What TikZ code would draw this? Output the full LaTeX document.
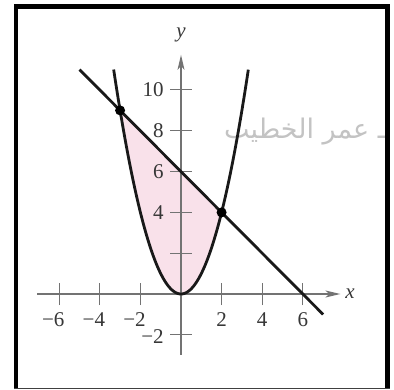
\documentclass[tikz,border=0pt]{standalone}
\usepackage{fontspec}
\setmainfont{Liberation Serif}
\newfontfamily\arabicfont[Script=Arabic]{DejaVu Sans}
\TeXXeTstate=1
\usetikzlibrary{arrows.meta}
\definecolor{pinkfill}{RGB}{249,225,234}
\definecolor{axisgray}{RGB}{115,115,115}
\definecolor{numgray}{RGB}{55,55,55}
\definecolor{wmgray}{RGB}{195,195,195}
\tikzset{
  axisline/.style={draw=axisgray, line width=1.1pt},
  tickline/.style={draw=axisgray, line width=1pt},
  curveline/.style={draw=black!90, line width=2.8pt},
  numlbl/.style={text=numgray, inner sep=0pt, font=\fontsize{21}{24}\selectfont},
  varlbl/.style={text=numgray, inner sep=0pt, font=\fontsize{21}{24}\selectfont\itshape},
  ptdot/.style={circle, fill=black, inner sep=0pt, minimum size=10pt},
  framebar/.style={draw=black, line width=4.8pt}
}
\begin{document}
\begin{tikzpicture}[x=1pt,y=1pt]
\useasboundingbox (0,0) rectangle (394,389);
\fill[white] (0,0) rectangle (394,389);
% watermark
\node[text=wmgray, inner sep=0pt, anchor=east, font=\arabicfont\fontsize{27}{30}\selectfont] (wm) at (386,257) {\beginR ـ عمر الخطيب\endR};
\begin{scope}[shift={(181pt,95pt)}, x=20.3pt, y=20.4pt]
  % shaded region
  \fill[pinkfill] plot[domain=-3:2, samples=60] (\x,{\x*\x}) -- (-3,9) -- cycle;
  % axes
  \coordinate (xs) at (-7.09,0);
  \coordinate (xe) at (7.85,0);
  \coordinate (ys) at (0,-2.99);
  \coordinate (ye) at (0,11.72);
  \draw[axisline, -{Stealth[length=15pt,width=7pt,inset=4pt]}] (xs) -- (xe);
  \draw[axisline, -{Stealth[length=15pt,width=7pt,inset=4pt]}] (ys) -- (ye);
  % ticks
  \foreach \t in {-6,-4,-2,2,4,6} \draw[tickline] (\t,-0.54) -- (\t,0.54);
  \foreach \t in {-2,2,4,6,8,10} \draw[tickline] (-0.54,\t) -- (0.54,\t);
  % x tick labels
  \foreach \t/\s in {-6/6,-4/4,-2/2} \node[numlbl] (xl\s) at (\t,-1.27) {\llap{−}\s};
  \foreach \t in {2,4,6} \node[numlbl] (xlp\t) at (\t,-1.27) {\t};
  % y tick labels
  \foreach \t in {4,6,8,10} \node[numlbl, anchor=east] (yl\t) at (-0.84,\t) {\t};
  \node[numlbl, anchor=east] (ylm2) at (-0.84,-2.08) {−2};
  % axis variable labels
  \node[varlbl] (xlab) at (8.33,0.03) {x};
  \node[varlbl] (ylab) at (0,12.7) {y};
  % curves
  \draw[curveline] plot[domain=-3.317:3.317, samples=120, smooth] (\x,{\x*\x});
  \coordinate (ls) at (-5,11);
  \coordinate (le) at (7,-1);
  \draw[curveline] (ls) -- (le);
  \node[ptdot] (p1) at (-3,9) {};
  \node[ptdot] (p2) at (2,4) {};
\end{scope}
% frame
\draw[framebar] (16,0) -- (16,382.5) -- (387.5,382.5) -- (387.5,0);
\draw[draw=black!75, line width=1.5pt] (14,0.6) -- (390,0.6);
\end{tikzpicture}
\end{document}
